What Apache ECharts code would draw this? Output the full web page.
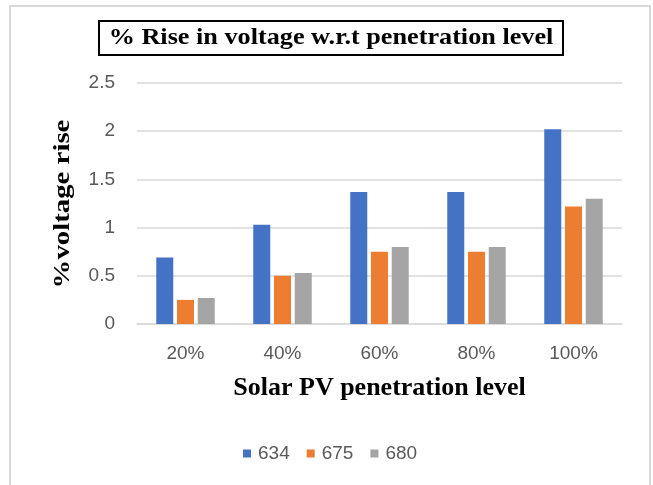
<!DOCTYPE html>
<html>
<head>
<meta charset="utf-8">
<script src="https://cdn.jsdelivr.net/npm/echarts@6/dist/echarts.min.js"></script>
<style>
  html, body { margin: 0; padding: 0; background: #fff; }
  #chart { width: 653px; height: 485px; }
</style>
</head>
<body>
<div id="chart"></div>
<script>
const categories = ['20%', '40%', '60%', '80%', '100%']
const bus634 = [0.69, 1.03, 1.37, 1.37, 2.02]
const bus675 = [0.25, 0.50, 0.75, 0.75, 1.22]
const bus680 = [0.27, 0.53, 0.80, 0.80, 1.30]

const colors = {
  blue: '#4472C4',
  orange: '#ED7D31',
  gray: '#A5A5A5',
  grid: '#D9D9D9',
  text: '#595959',
}

const serif = '"Liberation Serif", "Times New Roman", serif'
const sans = '"Liberation Sans", Arial, sans-serif'

function barSeries(name, data, color) {
  return {
    name,
    type: 'bar',
    data,
    barWidth: 17,
    barGap: '22%',
    itemStyle: { color },
  }
}

const chart = echarts.init(document.getElementById('chart'), null, { renderer: 'canvas' })

chart.setOption({
  animation: false,
  backgroundColor: '#fff',
  graphic: [
    {
      type: 'rect',
      shape: { x: 10, y: 6, width: 640, height: 500 },
      style: { fill: 'none', stroke: colors.grid, lineWidth: 2 },
      silent: true,
    },
    {
      type: 'rect',
      shape: { x: 99, y: 21, width: 464, height: 34 },
      style: { fill: '#fff', stroke: '#000', lineWidth: 2 },
      silent: true,
    },
    {
      type: 'text',
      x: 331,
      y: 38,
      scaleX: 1.14,
      style: {
        text: '% Rise in voltage w.r.t penetration level',
        font: 'bold 23px ' + serif,
        fill: '#000',
        align: 'center',
        verticalAlign: 'middle',
      },
      silent: true,
    },
    {
      type: 'text',
      x: 63,
      y: 204,
      rotation: Math.PI / 2,
      scaleX: 1.2,
      style: {
        text: '%voltage rise',
        font: 'bold 24px ' + serif,
        fill: '#000',
        align: 'center',
        verticalAlign: 'middle',
      },
      silent: true,
    },
  ],
  legend: {
    left: 238,
    top: 439,
    itemWidth: 8,
    itemHeight: 8,
    itemGap: 17,
    icon: 'rect',
    textStyle: { color: colors.text, fontSize: 19, fontFamily: sans, padding: [0, 0, 0, 2] },
    data: ['634', '675', '680'],
  },
  grid: { left: 137, right: 31, top: 83, bottom: 161 },
  xAxis: {
    type: 'category',
    data: categories,
    name: 'Solar PV penetration level',
    nameLocation: 'middle',
    nameGap: 51,
    nameTextStyle: { color: '#000', fontSize: 26, fontWeight: 'bold', fontFamily: serif },
    axisLine: { lineStyle: { color: colors.grid, width: 1.5 } },
    axisTick: { show: false },
    axisLabel: { color: colors.text, fontSize: 19, fontFamily: sans, margin: 20 },
  },
  yAxis: {
    type: 'value',
    min: 0,
    max: 2.5,
    interval: 0.5,
    axisLine: { show: false },
    axisTick: { show: false },
    axisLabel: { color: colors.text, fontSize: 19, fontFamily: sans, margin: 22 },
    splitLine: { lineStyle: { color: colors.grid, width: 1.5 } },
  },
  series: [
    barSeries('634', bus634, colors.blue),
    barSeries('675', bus675, colors.orange),
    barSeries('680', bus680, colors.gray),
  ],
})
</script>
</body>
</html>
